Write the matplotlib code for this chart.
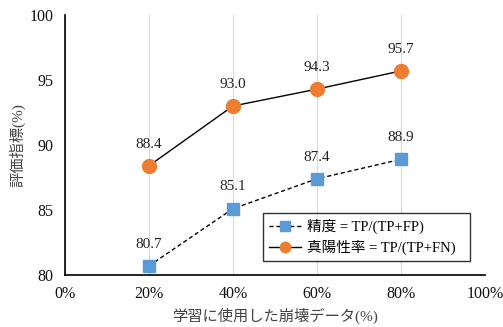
import matplotlib
matplotlib.use("Agg")
import matplotlib.pyplot as plt
from matplotlib.ticker import FuncFormatter

plt.rcParams['font.family'] = ['Liberation Serif', 'Noto Sans CJK JP']

x_pct = [20, 40, 60, 80]
precision = [80.7, 85.1, 87.4, 88.9]
recall = [88.4, 93.0, 94.3, 95.7]
label_precision = "精度 = TP/(TP+FP)"
label_recall = "真陽性率 = TP/(TP+FN)"
xlabel = "学習に使用した崩壊データ(%)"
ylabel = "評価指標(%)"

fig = plt.figure(figsize=(5.03, 3.27), dpi=100)
ax = fig.add_axes([0.129, 0.159, 0.835, 0.795])

ax.plot(x_pct, precision, linestyle=(0, (3, 2)), color='black', lw=1.0,
        marker='s', markersize=9, markerfacecolor='#5B9BD5',
        markeredgecolor='#5B9BD5', label=label_precision, zorder=3)
ax.plot(x_pct, recall, linestyle='-', color='black', lw=1.0,
        marker='o', markersize=10, markerfacecolor='#ED7D31',
        markeredgecolor='#ED7D31', label=label_recall, zorder=3)

for xv, yv in zip(x_pct, precision):
    ax.annotate(f"{yv:.1f}", (xv, yv), xytext=(0, 11), textcoords='offset points',
                ha='center', va='bottom', fontsize=11, color='#222222')
for xv, yv in zip(x_pct, recall):
    ax.annotate(f"{yv:.1f}", (xv, yv), xytext=(0, 11), textcoords='offset points',
                ha='center', va='bottom', fontsize=11, color='#222222')

ax.set_xlim(0, 100)
ax.set_ylim(80, 100)
ax.set_xticks([0, 20, 40, 60, 80, 100])
ax.set_yticks([80, 85, 90, 95, 100])
ax.xaxis.set_major_formatter(FuncFormatter(lambda v, p: f"{int(v)}%"))
ax.tick_params(axis='both', length=0, labelsize=11.5, colors='#111111', pad=8)
ax.grid(axis='x', color='#D9D9D9', lw=0.8)
ax.set_axisbelow(True)
for s in ['top', 'right']:
    ax.spines[s].set_visible(False)
for s in ['left', 'bottom']:
    ax.spines[s].set_color('black')
    ax.spines[s].set_linewidth(1.2)

ax.set_xlabel(xlabel, fontsize=11, color='#444444', labelpad=4)
ax.set_ylabel(ylabel, fontsize=11, color='#444444', labelpad=3)

leg = ax.legend(loc='lower left', bbox_to_anchor=(0.455, 0.027, 0.528, 0.192),
                mode='expand', fontsize=10.5, frameon=True, fancybox=False,
                handlelength=2.2, handletextpad=0.4, borderpad=0.4,
                labelspacing=0.4, markerscale=0.75)
leg.get_frame().set_edgecolor('black')
leg.get_frame().set_linewidth(1.0)

fig.savefig("out.png", dpi=100)
